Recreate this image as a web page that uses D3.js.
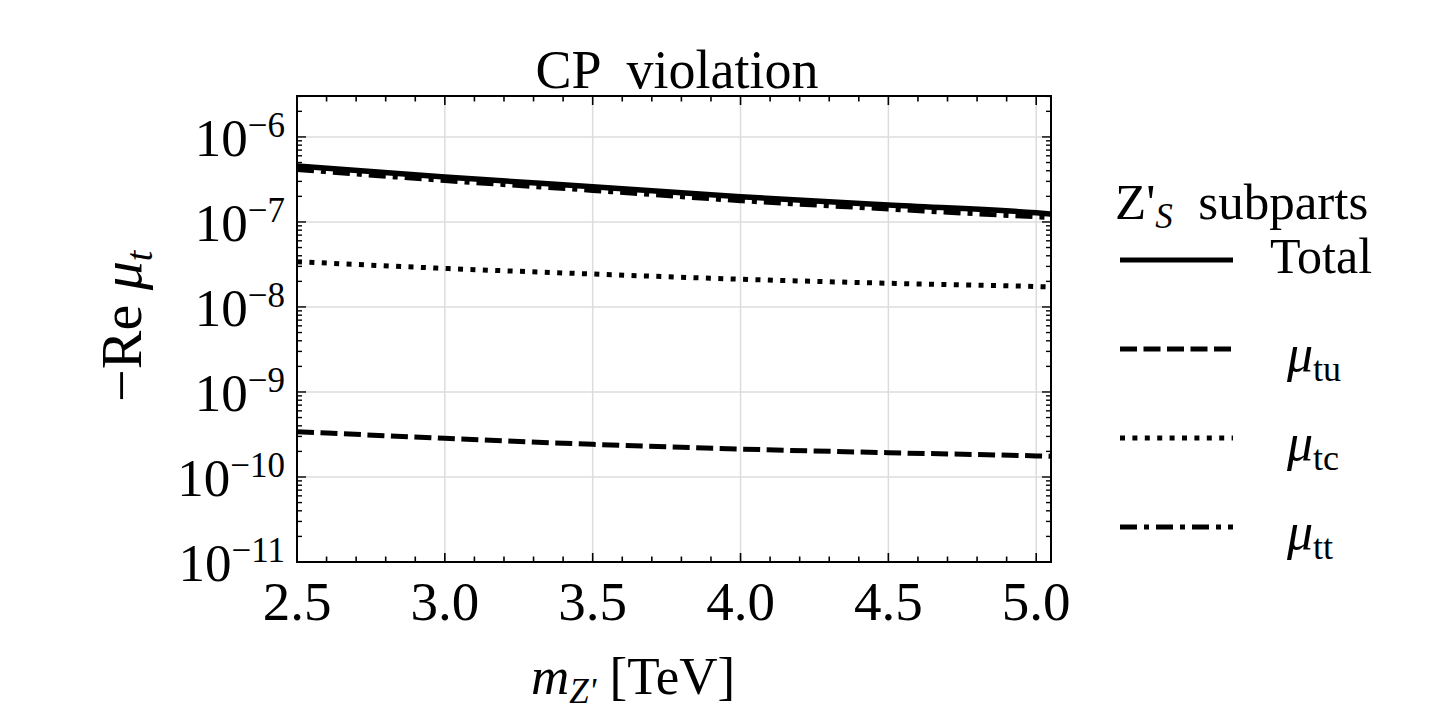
<!DOCTYPE html>
<html lang="en">
  <head>
    <meta charset="UTF-8" />
    <title>CP violation</title>
    <style type="text/css">
      html,
      body {
        margin: 0;
        padding: 0;
        background: #fff;
        overflow: hidden;
      }

      svg text {
        font-family: "Liberation Serif", "DejaVu Serif", serif;
        fill: #000;
      }
    </style>
  </head>
  <body>
    <svg id="chart"></svg>

    <script src="https://cdn.jsdelivr.net/npm/d3@7/dist/d3.min.js"></script>
    <script>
      // === Data === //

      var mass = [2.5, 3.0, 3.5, 4.0, 4.5, 5.0, 5.05]; // m_Z' [TeV]

      var total = [4.56e-7, 3.38e-7, 2.59e-7, 1.98e-7, 1.58e-7, 1.28e-7, 1.24e-7];
      var muTU = [3.41e-10, 2.85e-10, 2.42e-10, 2.13e-10, 1.93e-10, 1.77e-10, 1.75e-10];
      var muTC = [3.41e-8, 2.84e-8, 2.44e-8, 2.12e-8, 1.9e-8, 1.74e-8, 1.72e-8];
      var muTT = [4.15e-7, 3.07e-7, 2.35e-7, 1.78e-7, 1.42e-7, 1.15e-7, 1.13e-7];

      var seriesNames = ["Total", "tu", "tc", "tt"];
      var xTickValues = [2.5, 3.0, 3.5, 4.0, 4.5, 5.0];
      var yExponents = [-11, -10, -9, -8, -7, -6];

      // === Layout === //

      var width = 1447,
        height = 711;
      var frame = { left: 297, right: 1051, top: 96, bottom: 562 };

      var svg = d3
        .select("#chart")
        .attr("width", width)
        .attr("height", height);

      var x = d3
        .scaleLinear()
        .domain([2.5, 5.05])
        .range([frame.left, frame.right]);

      var y = d3
        .scaleLog()
        .domain([1e-11, 3.03e-6])
        .range([frame.bottom, frame.top]);

      // line styles, one per series
      var dashes = {
        Total: null,
        tu: "17,6.5",
        tc: "5,7.4",
        tt: "17,7,5,7"
      };

      // === Grid === //

      var grid = svg.append("g").attr("class", "grid");

      grid
        .selectAll("line.gx")
        .data(xTickValues.slice(1))
        .enter()
        .append("line")
        .attr("x1", function(d) { return x(d); })
        .attr("x2", function(d) { return x(d); })
        .attr("y1", frame.top)
        .attr("y2", frame.bottom)
        .attr("stroke", "#dcdcdc")
        .attr("stroke-width", 1.5);

      grid
        .selectAll("line.gy")
        .data(yExponents.slice(1))
        .enter()
        .append("line")
        .attr("x1", frame.left)
        .attr("x2", frame.right)
        .attr("y1", function(d) { return y(Math.pow(10, d)); })
        .attr("y2", function(d) { return y(Math.pow(10, d)); })
        .attr("stroke", "#dcdcdc")
        .attr("stroke-width", 1.5);

      // === Curves === //

      svg
        .append("clipPath")
        .attr("id", "clip")
        .append("rect")
        .attr("x", frame.left)
        .attr("y", frame.top)
        .attr("width", frame.right - frame.left)
        .attr("height", frame.bottom - frame.top);

      var line = d3
        .line()
        .x(function(d) { return x(d[0]); })
        .y(function(d) { return y(d[1]); })
        .curve(d3.curveMonotoneX);

      var seriesValues = { Total: total, tu: muTU, tc: muTC, tt: muTT };

      var curves = svg.append("g").attr("clip-path", "url(#clip)");

      ["tu", "tc", "tt", "Total"].forEach(function(name) {
        var pts = d3.zip(mass, seriesValues[name]);
        curves
          .append("path")
          .attr("d", line(pts))
          .attr("fill", "none")
          .attr("stroke", "#000")
          .attr("stroke-width", name === "Total" ? 5.5 : 5)
          .attr("stroke-dasharray", dashes[name]);
      });

      // === Frame and ticks === //

      var axes = svg.append("g").attr("class", "frame");

      var xMinor = d3.range(25, 51).map(function(d) { return d / 10; });

      xMinor.forEach(function(v) {
        var major = Math.abs(v * 2 - Math.round(v * 2)) < 1e-6;
        var len = major ? 9 : 5.5;
        axes.append("line")
          .attr("x1", x(v)).attr("x2", x(v))
          .attr("y1", frame.bottom).attr("y2", frame.bottom - len)
          .attr("stroke", "#000").attr("stroke-width", 1.6);
        axes.append("line")
          .attr("x1", x(v)).attr("x2", x(v))
          .attr("y1", frame.top).attr("y2", frame.top + len)
          .attr("stroke", "#000").attr("stroke-width", 1.6);
      });

      var yMinor = [];
      d3.range(-11, -5).forEach(function(e) {
        d3.range(1, 10).forEach(function(m) {
          var v = m * Math.pow(10, e);
          if (v <= 3.03e-6) yMinor.push({ v: v, major: m === 1 });
        });
      });

      yMinor.forEach(function(t) {
        var len = t.major ? 9 : 5;
        axes.append("line")
          .attr("x1", frame.left).attr("x2", frame.left + len)
          .attr("y1", y(t.v)).attr("y2", y(t.v))
          .attr("stroke", "#000").attr("stroke-width", 1.4);
        axes.append("line")
          .attr("x1", frame.right).attr("x2", frame.right - len)
          .attr("y1", y(t.v)).attr("y2", y(t.v))
          .attr("stroke", "#000").attr("stroke-width", 1.4);
      });

      axes
        .append("rect")
        .attr("x", frame.left)
        .attr("y", frame.top)
        .attr("width", frame.right - frame.left)
        .attr("height", frame.bottom - frame.top)
        .attr("fill", "none")
        .attr("stroke", "#000")
        .attr("stroke-width", 2);

      // === Tick labels === //

      svg
        .selectAll("text.xtick")
        .data(xTickValues)
        .enter()
        .append("text")
        .attr("class", "xtick")
        .attr("x", function(d) { return x(d); })
        .attr("y", 620)
        .attr("text-anchor", "middle")
        .style("font-size", "55px")
        .text(function(d) { return d.toFixed(1); });

      var ylab = svg
        .selectAll("text.ytick")
        .data(yExponents)
        .enter()
        .append("text")
        .attr("class", "ytick")
        .attr("x", 285)
        .attr("y", function(d) { return y(Math.pow(10, d)) + 19; })
        .attr("text-anchor", "end")
        .style("font-size", "53px");

      ylab.append("tspan").text("10");
      ylab
        .append("tspan")
        .attr("dy", -19)
        .style("font-size", "35px")
        .text(function(d) { return "\u2212" + Math.abs(d); });

      // === Titles === //

      svg
        .append("text")
        .attr("x", 677)
        .attr("y", 88)
        .attr("text-anchor", "middle")
        .style("font-size", "54px")
        .style("white-space", "pre")
        .text("CP  violation");

      var xl = svg
        .append("text")
        .attr("x", 531)
        .attr("y", 694)
        .style("font-size", "53px");
      xl.append("tspan").style("font-style", "italic").text("m");
      xl.append("tspan")
        .attr("dy", 9)
        .style("font-size", "35px")
        .style("font-style", "italic")
        .text("Z'");
      xl.append("tspan")
        .attr("dy", -9)
        .style("white-space", "pre")
        .text(" [TeV]");

      var yl = svg
        .append("text")
        .attr("transform", "translate(141,402) rotate(-90)")
        .style("font-size", "58px");
      yl.append("tspan").text("\u2212Re ");
      yl.append("tspan").style("font-style", "italic").text("\u03bc");
      yl.append("tspan")
        .attr("dy", 11)
        .style("font-size", "38px")
        .style("font-style", "italic")
        .text("t");

      // === Legend === //

      var legend = svg.append("g").attr("class", "legend");

      var lt = legend
        .append("text")
        .attr("x", 1115)
        .attr("y", 219)
        .style("font-size", "51px")
        .style("white-space", "pre");
      lt.append("tspan").text("Z'");
      lt.append("tspan")
        .attr("dy", 9)
        .style("font-size", "35px")
        .style("font-style", "italic")
        .text("S");
      lt.append("tspan").attr("dy", -9).text("  subparts");

      var legendY = d3
        .scalePoint()
        .domain(seriesNames)
        .range([260, 527]);

      var item = legend
        .selectAll("g.item")
        .data(seriesNames)
        .enter()
        .append("g")
        .attr("class", "item")
        .attr("transform", function(d) { return "translate(0," + legendY(d) + ")"; });

      item
        .append("line")
        .attr("x1", 1120)
        .attr("x2", 1233)
        .attr("stroke", "#000")
        .attr("stroke-width", 5)
        .attr("stroke-dasharray", function(d) { return dashes[d]; });

      item.each(function(d) {
        var g = d3.select(this);
        if (d === "Total") {
          g.append("text")
            .attr("x", 1270)
            .attr("y", 13)
            .style("font-size", "50px")
            .text("Total");
        } else {
          var t = g
            .append("text")
            .attr("x", 1287)
            .attr("y", 22)
            .style("font-size", "52px");
          t.append("tspan").style("font-style", "italic").text("\u03bc");
          t.append("tspan")
            .attr("dy", 10)
            .style("font-size", "36px")
            .text(d);
        }
      });
    </script>
  </body>
</html>
